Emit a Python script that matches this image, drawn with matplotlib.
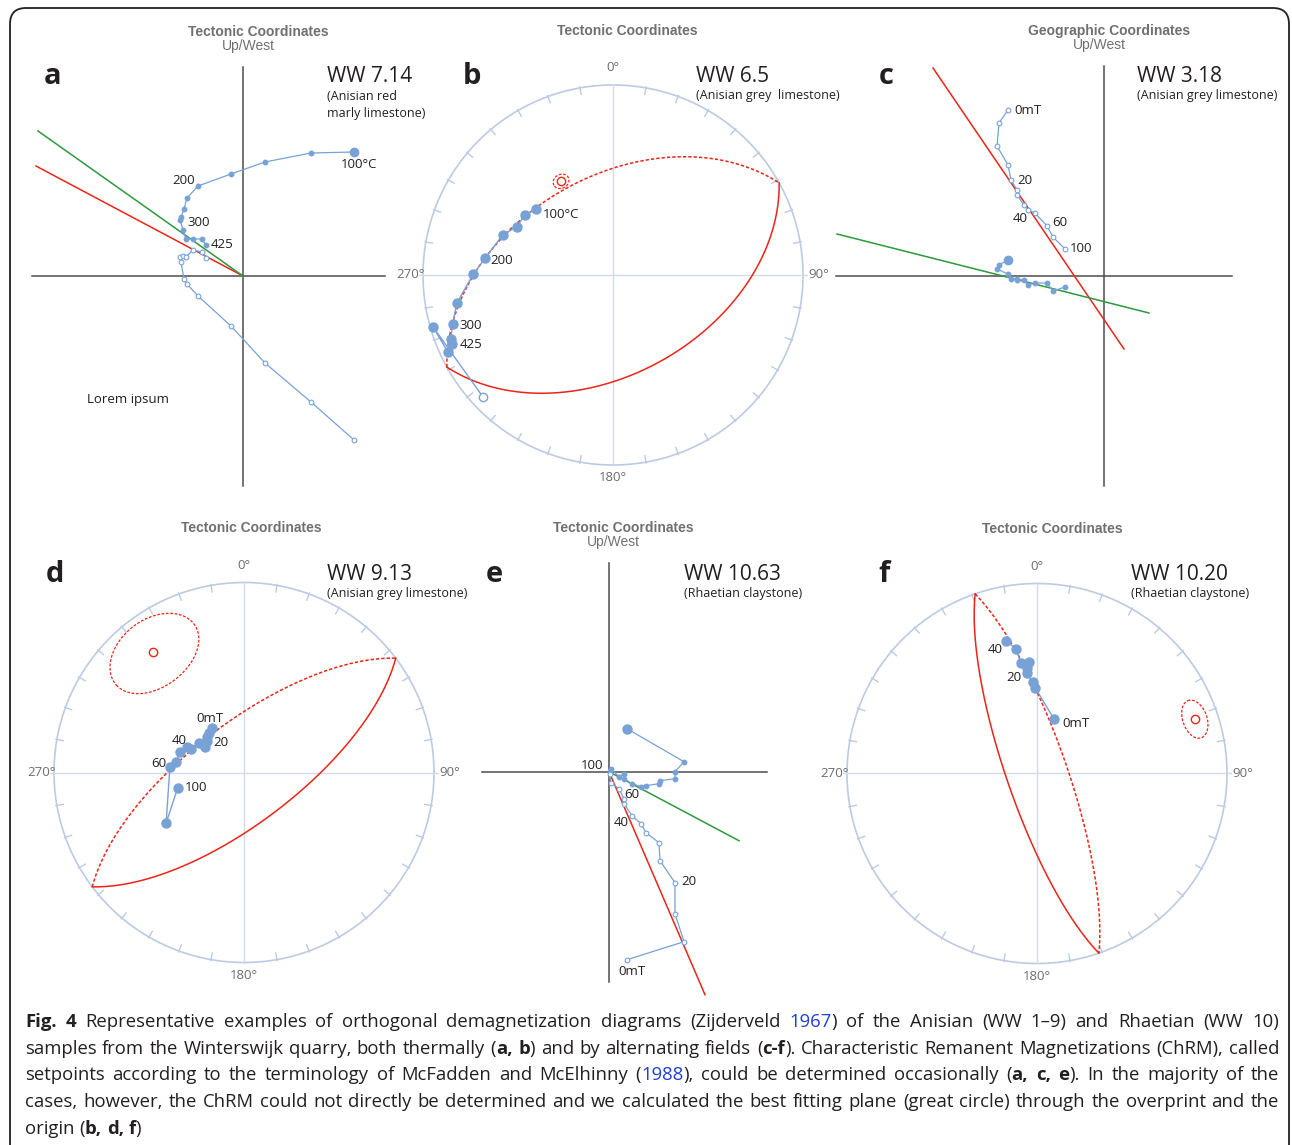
import re
import numpy as np
import matplotlib
matplotlib.use("Agg")
import matplotlib.pyplot as plt
from matplotlib.patches import FancyBboxPatch

W, H = 1292, 1145
S = 100.0      # Zijderveld scale, pixels per unit
R = 190.0      # stereonet radius, pixels

BLUE = "#78a2d6"
RED = "#ec2418"
GREEN = "#2a9a3c"
AXIS = "#4d4d4d"
NET = "#bccbe3"
CROSS = "#d3dbea"
HEAD = "#707070"
INK = "#231f20"

plt.rcParams["font.family"] = ["Open Sans", "DejaVu Sans"]

# ---- a: WW 7.14, thermal (x shared axis, h horizontal, v vertical projection)
a_x = [1.11, 0.68, 0.22, -0.12, -0.45, -0.56, -0.59, -0.62, -0.63, -0.60, -0.57, -0.50, -0.41, -0.37]
a_h = [1.24, 1.23, 1.14, 1.02, 0.90, 0.78, 0.67, 0.59, 0.56, 0.46, 0.37, 0.37, 0.37, 0.31]
a_v = [-1.64, -1.26, -0.87, -0.50, -0.20, -0.08, -0.03, 0.14, 0.19, 0.20, 0.19, 0.26, 0.24, 0.18]
a_lbl = {0: "100°C", 4: "200", 8: "300", 13: "425"}
a_red = ([0, -2.07], [0, 1.10])
a_green = ([0, -2.05], [0, 1.45])

# ---- b: WW 6.5, thermal, equal-area (dec, inc)
b_dec = [310.7, 304.1, 296.6, 289.9, 277.4, 270.3, 259.7, 253.0, 248.4, 246.8, 245.1, 253.8, 227.0]
b_inc = [-45.7, -43.3, -42.7, -38.2, -32.6, -27.3, -17.5, -12.8, -8.9, -8.5, -4.6, -1.7, 6.9]
b_lbl = {0: "100°C", 4: "200", 7: "300", 9: "425"}
b_pole = (331.0, 43.0)
b_a95 = 3.2

# ---- c: WW 3.18, AF, geographic
c_x = [-0.96, -1.05, -1.07, -0.96, -0.93, -0.87, -0.87, -0.80, -0.76, -0.69, -0.57, -0.51, -0.39]
c_h = [0.16, 0.11, 0.07, 0.02, -0.03, -0.03, -0.035, -0.04, -0.09, -0.07, -0.07, -0.15, -0.11]
c_v = [1.66, 1.53, 1.30, 1.11, 0.96, 0.86, 0.81, 0.71, 0.66, 0.63, 0.50, 0.39, 0.27]
c_lbl = {0: "0mT", 4: "20", 9: "40", 10: "60", 12: "100"}
c_red = ([-1.71, 0.20], [2.08, -0.73])
c_green = ([-2.67, 0.45], [0.42, -0.37])

# ---- d: WW 9.13, AF, equal-area
d_dec = [323.8, 318.9, 313.8, 310.5, 303.3, 303.0, 293.5, 293.7, 288.0, 278.5, 274.5, 236.9, 257.1]
d_inc = [-66.5, -67.3, -68.2, -69.0, -69.9, -67.0, -65.0, -63.1, -61.0, -60.3, -57.9, -49.5, -60.7]
d_lbl = {0: "0mT", 4: "20", 8: "40", 10: "60", 12: "100"}
d_pole = (323.0, 21.5)
d_a95 = 17.5

# ---- e: WW 10.63, AF
e_x = [0.18, 0.75, 0.66, 0.66, 0.51, 0.50, 0.37, 0.32, 0.23, 0.15, 0.15, 0.10, 0.02, 0.005]
e_h = [0.43, 0.10, 0.00, -0.07, -0.09, -0.12, -0.14, -0.15, -0.12, -0.07, -0.02, -0.05, 0.03, 0.01]
e_v = [-1.88, -1.70, -1.42, -1.11, -0.89, -0.71, -0.61, -0.52, -0.44, -0.32, -0.27, -0.17, -0.11, -0.02]
e_lbl = {0: "0mT", 3: "20", 8: "40", 11: "60", 13: "100"}
e_red = ([0, 0.96], [0, -2.23])
e_green = ([0, 1.30], [0, -0.69])

# ---- f: WW 10.20, AF, equal-area
f_dec = [17.4, 358.9, 357.3, 354.1, 354.4, 356.0, 351.7, 350.4, 346.7]
f_inc = [-65.5, -52.9, -50.3, -45.8, -43.5, -40.8, -40.9, -33.8, -28.9]
f_lbl = {0: "0mT", 3: "20", 8: "40"}
f_pole = (71.0, 13.0)
f_a95 = 6.6

fig = plt.figure(figsize=(W / 100, H / 100), dpi=100)
bg = fig.add_axes([0, 0, 1, 1])
bg.set_xlim(0, W)
bg.set_ylim(H, 0)
bg.axis("off")
bg.add_patch(FancyBboxPatch((10, 8), 1279, 1170, boxstyle="round,pad=0,rounding_size=16",
                            fill=False, ec=INK, lw=1.3))


def txt(x, y, s, **kw):
    kw.setdefault("color", INK)
    kw.setdefault("va", "center")
    return bg.text(x, y, s, **kw)


def header(x, y, title, sub=None):
    txt(x, y, title, ha="center", color=HEAD, fontsize=10, fontweight="bold",
        family=["Liberation Sans", "DejaVu Sans"])
    if sub:
        txt(x - 10, y + 14, sub, ha="center", color=HEAD, fontsize=10,
            family=["Liberation Sans", "DejaVu Sans"])


def sample(x, y, letter, lx, name, desc):
    txt(lx, y, letter, ha="center", fontsize=21, fontweight="bold")
    txt(x, y, name, ha="left", fontsize=15)
    for i, line in enumerate(desc):
        txt(x, y + 20 + 17 * i, line, ha="left", fontsize=9)


def annotate(ax, pts, labels, offs):
    for i, s in labels.items():
        kind, dx, dy, ha = offs[i]
        x, y = pts[kind]
        ax.annotate(s, (x[i], y[i]), xytext=(dx, -dy), textcoords="offset pixels",
                    ha=ha, va="center", fontsize=9.5, color=INK, zorder=8)


def zij(box, origin, xext, yext):
    x0, y0, x1, y1 = box
    ox, oy = origin
    ax = fig.add_axes([x0 / W, 1 - y1 / H, (x1 - x0) / W, (y1 - y0) / H])
    ax.set_xlim((x0 - ox) / S, (x1 - ox) / S)
    ax.set_ylim((oy - y1) / S, (oy - y0) / S)
    ax.axis("off")
    ax.plot(xext, [0, 0], color=AXIS, lw=1.1, zorder=1)
    ax.plot([0, 0], yext, color=AXIS, lw=1.1, zorder=1)
    return ax


def zij_data(ax, x, h, v, big):
    ax.plot(x, h, color=BLUE, lw=0.9, zorder=4)
    ax.plot(x, h, "o", ms=3.2, color=BLUE, zorder=5)
    ax.plot(x[:1], h[:1], "o", ms=big, color=BLUE, zorder=5)
    ax.plot(x, v, color=BLUE, lw=0.9, zorder=4)
    ax.plot(x, v, "o", ms=3.4, mfc="white", mec=BLUE, mew=0.8, zorder=5)


def vec(dec, inc):
    d, i = np.radians(dec), np.radians(inc)
    return np.stack([np.cos(i) * np.cos(d), np.cos(i) * np.sin(d), np.sin(i)], axis=-1)


def proj(v):
    v = np.atleast_2d(v)
    v = v / np.linalg.norm(v, axis=1)[:, None]
    r = np.sqrt(np.clip(1 - np.abs(v[:, 2]), 0, None))
    hor = np.hypot(v[:, 0], v[:, 1])
    hor[hor == 0] = 1
    return r * v[:, 1] / hor, r * v[:, 0] / hor


def net(cx, cy):
    pad = 45
    ax = fig.add_axes([(cx - R - pad) / W, 1 - (cy + R + pad) / H,
                       2 * (R + pad) / W, 2 * (R + pad) / H])
    lim = (R + pad) / R
    ax.set_xlim(-lim, lim)
    ax.set_ylim(-lim, lim)
    ax.axis("off")
    t = np.linspace(0, 2 * np.pi, 400)
    ax.plot(np.cos(t), np.sin(t), color=NET, lw=1.2, zorder=1)
    for az in range(10, 360, 10):
        if az % 90:
            s, c = np.sin(np.radians(az)), np.cos(np.radians(az))
            ax.plot([0.965 * s, 1.005 * s], [0.965 * c, 1.005 * c], color=NET, lw=1.0, zorder=1)
    ax.plot([-1.02, 1.02], [0, 0], color=CROSS, lw=1.0, zorder=1)
    ax.plot([0, 0], [-1.0, 1.0], color=CROSS, lw=1.0, zorder=1)
    dk = dict(color="#6d6d6d", fontsize=9.5, va="center")
    ax.text(0, 1 + 17 / R, "0°", ha="center", **dk)
    ax.text(0, -1 - 13 / R, "180°", ha="center", **dk)
    ax.text(-1 + 2 / R, 0, "270°", ha="right", **dk)
    ax.text(1 + 5 / R, 0, "90°", ha="left", **dk)
    return ax


def net_data(ax, dec, inc):
    dec, inc = np.asarray(dec), np.asarray(inc)
    x, y = proj(vec(dec, inc))
    ax.plot(x, y, color=BLUE, lw=1.0, zorder=4)
    up = inc < 0
    ax.plot(x[up], y[up], "o", ms=6.5, color=BLUE, zorder=5)
    ax.plot(x[~up], y[~up], "o", ms=6, mfc="white", mec=BLUE, mew=1.0, zorder=5)
    return x, y


def plane(ax, pole, a95):
    p = vec(*pole)
    e1 = np.cross(p, [0, 0, 1.0])
    e1 /= np.linalg.norm(e1)
    e2 = np.cross(p, e1)
    t = np.linspace(0, np.pi, 300)
    arc = np.outer(np.cos(t), e1) + np.outer(np.sin(t), e2)
    for half in (arc, -arc):
        upper = half[:, 2].mean() < 0
        x, y = proj(half)
        ax.plot(x, y, color=RED, lw=1.1, zorder=3,
                ls=(0, (2.2, 1.3)) if upper else "-")
    t = np.linspace(0, 2 * np.pi, 200)
    a = np.radians(a95)
    cone = np.cos(a) * p + np.sin(a) * (np.outer(np.cos(t), e1) + np.outer(np.sin(t), e2))
    x, y = proj(cone)
    ax.plot(x, y, color=RED, lw=0.9, ls=(0, (2.2, 1.3)), zorder=3)
    x, y = proj(p)
    ax.plot(x, y, "o", ms=6, mfc="none", mec=RED, mew=1.0, zorder=6)


# ---------------- a
header(258, 32, "Tectonic Coordinates", "Up/West")
sample(327, 76, "a", 53, "WW 7.14", ["(Anisian red", "marly limestone)"])
ax = zij((20, 55, 420, 495), (243, 276), [-2.11, 1.42], [-2.10, 2.09])
ax.plot(*a_red, color=RED, lw=1.1, zorder=3)
ax.plot(*a_green, color=GREEN, lw=1.1, zorder=3)
zij_data(ax, a_x, a_h, a_v, 6)
annotate(ax, {"h": (a_x, a_h), "v": (a_x, a_v)}, a_lbl,
         {0: ("h", 5, 13, "center"), 4: ("h", -14, -6, "center"),
          8: ("h", 7, 3, "left"), 13: ("h", 5, -1, "left")})
txt(87, 399, "Lorem ipsum", ha="left", fontsize=9.5)

# ---------------- b
header(627, 31, "Tectonic Coordinates")
sample(696, 76, "b", 472, "WW 6.5", ["(Anisian grey  limestone)"])
ax = net(613, 275)
plane(ax, b_pole, b_a95)
bx, by = net_data(ax, b_dec, b_inc)
annotate(ax, {"p": (bx, by)}, b_lbl,
         {0: ("p", 7, 6, "left"), 4: ("p", 5, 2, "left"),
          7: ("p", 7, 1, "left"), 9: ("p", 8, 0, "left")})

# ---------------- c
header(1109, 31, "Geographic Coordinates", "Up/West")
sample(1137, 76, "c", 886, "WW 3.18", ["(Anisian grey limestone)"])
ax = zij((830, 55, 1290, 495), (1104, 276), [-2.68, 1.28], [-2.10, 2.10])
ax.plot(*c_red, color=RED, lw=1.1, zorder=3)
ax.plot(*c_green, color=GREEN, lw=1.1, zorder=3)
zij_data(ax, c_x, c_h, c_v, 6)
annotate(ax, {"h": (c_x, c_h), "v": (c_x, c_v)}, c_lbl,
         {0: ("v", 6, 0, "left"), 4: ("v", 6, 0, "left"), 9: ("v", -15, 5, "center"),
          10: ("v", 13, -3, "center"), 12: ("v", 5, 0, "left")})

# ---------------- d
header(251, 528, "Tectonic Coordinates")
sample(327, 574, "d", 55, "WW 9.13", ["(Anisian grey limestone)"])
ax = net(244, 772.5)
plane(ax, d_pole, d_a95)
dx_, dy_ = net_data(ax, d_dec, d_inc)
annotate(ax, {"p": (dx_, dy_)}, d_lbl,
         {0: ("p", -2, -10, "center"), 4: ("p", 8.5, -4.5, "left"),
          8: ("p", -1, -11.5, "center"), 10: ("p", -4, -3.5, "right"),
          12: ("p", 7, 0, "left")})

# ---------------- e
header(623, 528, "Tectonic Coordinates", "Up/West")
sample(684, 574, "e", 494, "WW 10.63", ["(Rhaetian claystone)"])
ax = zij((475, 550, 800, 1000), (609, 771.7), [-1.27, 1.58], [-2.10, 2.09])
ax.plot(*e_red, color=RED, lw=1.1, zorder=3)
ax.plot(*e_green, color=GREEN, lw=1.1, zorder=3)
zij_data(ax, e_x, e_h, e_v, 6.5)
annotate(ax, {"h": (e_x, e_h), "v": (e_x, e_v)}, e_lbl,
         {0: ("v", 5, 12, "center"), 3: ("v", 6, -1.5, "left"),
          8: ("v", -11, 7, "center"), 11: ("v", 13, 5.5, "center"),
          13: ("h", -6, -5, "right")})

# ---------------- f
header(1052, 529, "Tectonic Coordinates")
sample(1131, 574, "f", 884, "WW 10.20", ["(Rhaetian claystone)"])
ax = net(1037, 773.5)
plane(ax, f_pole, f_a95)
fx_, fy_ = net_data(ax, f_dec, f_inc)
annotate(ax, {"p": (fx_, fy_)}, f_lbl,
         {0: ("p", 8, 4, "left"), 3: ("p", -5.5, 4.5, "right"),
          8: ("p", -3, 9, "right")})

# ---------------- caption, justified line by line
caption = [
    "**Fig. 4** Representative examples of orthogonal demagnetization diagrams (Zijderveld {1967}) of the Anisian (WW 1–9) and Rhaetian (WW 10)",
    "samples from the Winterswijk quarry, both thermally (**a, b**) and by alternating fields (**c-f**). Characteristic Remanent Magnetizations (ChRM), called",
    "setpoints according to the terminology of McFadden and McElhinny ({1988}), could be determined occasionally (**a, c, e**). In the majority of the",
    "cases, however, the ChRM could not directly be determined and we calculated the best fitting plane (great circle) through the overprint and the",
    "origin (**b, d, f**)",
]
cap_y = [1022, 1049, 1075, 1102, 1129]
CAP_FS = 13.3
styles = {"plain": dict(color=INK), "bold": dict(color=INK, fontweight="bold"),
          "blue": dict(color="#1f3fd6")}


def parse(line):
    words = [[]]
    for part in re.split(r"(\*\*.+?\*\*|\{.+?\})", line):
        if not part:
            continue
        if part.startswith("**"):
            st, s = "bold", part[2:-2]
        elif part.startswith("{"):
            st, s = "blue", part[1:-1]
        else:
            st, s = "plain", part
        for k, piece in enumerate(s.split(" ")):
            if k:
                words.append([])
            if piece:
                words[-1].append((piece, st))
    return [w for w in words if w]


renderer = fig.canvas.get_renderer()
X0, X1 = 25, 1279
for n, (line, y) in enumerate(zip(caption, cap_y)):
    placed = []
    for word in parse(line):
        runs = []
        for s, st in word:
            t = txt(0, y, s, ha="left", fontsize=CAP_FS, **styles[st])
            runs.append((t, t.get_window_extent(renderer).width))
        placed.append(runs)
    widths = [sum(w for _, w in runs) for runs in placed]
    if n < len(caption) - 1:
        gap = (X1 - X0 - sum(widths)) / (len(placed) - 1)
    else:
        gap = CAP_FS * 100 / 72 * 0.26
    x = X0
    for runs, wd in zip(placed, widths):
        xx = x
        for t, w in runs:
            t.set_x(xx)
            xx += w
        x += wd + gap

fig.savefig("out.png", dpi=100)
